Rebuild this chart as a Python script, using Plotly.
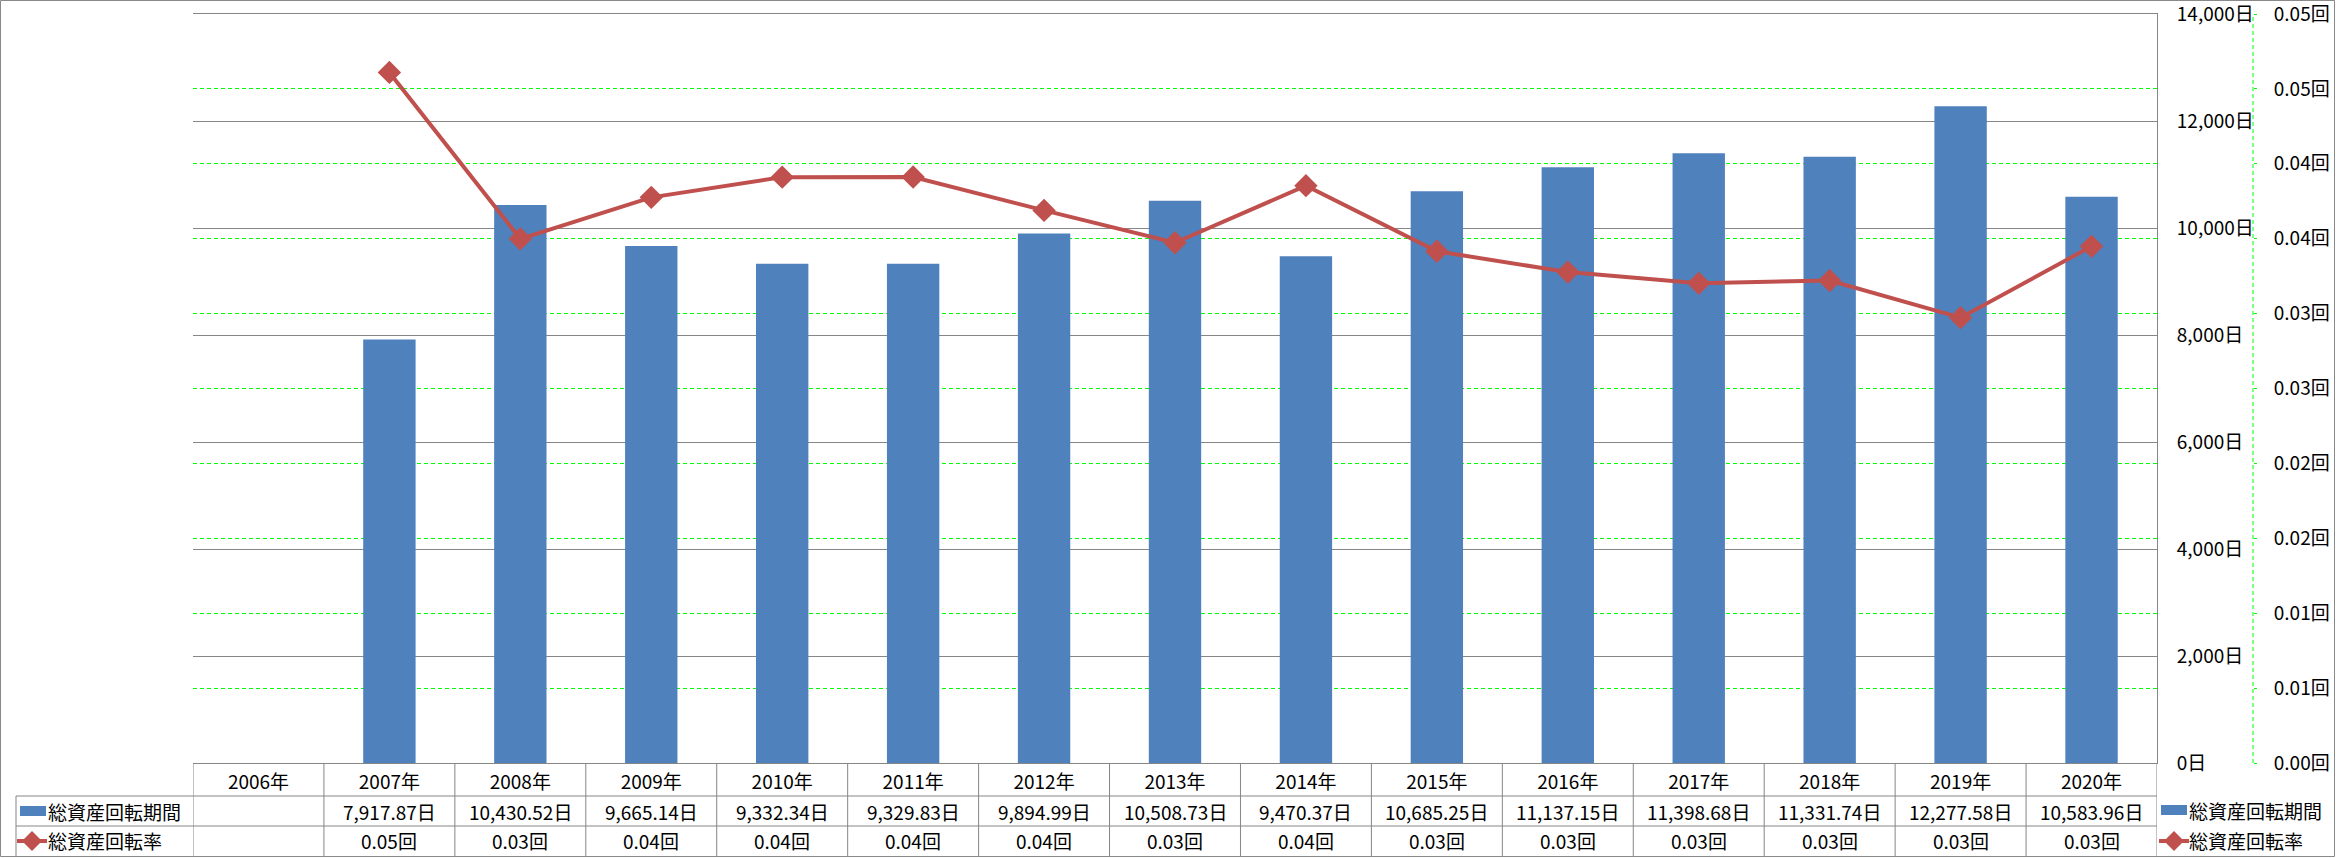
import plotly.graph_objects as go

# ---------------- data ----------------
years = ['2006年', '2007年', '2008年', '2009年', '2010年', '2011年', '2012年', '2013年',
         '2014年', '2015年', '2016年', '2017年', '2018年', '2019年', '2020年']
period_days = [None, 7917.87, 10430.52, 9665.14, 9332.34, 9329.83, 9894.99, 10508.73,
               9470.37, 10685.25, 11137.15, 11398.68, 11331.74, 12277.58, 10583.96]
turnover = [None, 0.04610, 0.03499, 0.03776, 0.03911, 0.03912, 0.03689, 0.03473,
            0.03854, 0.03416, 0.03277, 0.03202, 0.03221, 0.02973, 0.03449]
y1_tickvals = [0, 2000, 4000, 6000, 8000, 10000, 12000, 14000]
y1_ticktext = ['0日', '2,000日', '4,000日', '6,000日', '8,000日', '10,000日', '12,000日', '14,000日']
y2_tickvals = [0, 0.005, 0.01, 0.015, 0.02, 0.025, 0.03, 0.035, 0.04, 0.045, 0.05]
y2_ticktext = ['0.00回', '0.01回', '0.01回', '0.02回', '0.02回', '0.03回', '0.03回',
               '0.04回', '0.04回', '0.05回', '0.05回']
name_bar = '総資産回転期間'
name_line = '総資産回転率'

# ---------------- geometry / style ----------------
W, H = 2336, 858
M_T, M_B = 14, 95
PLOT_H = H - M_T - M_B
BAR_C = '#4F81BD'
LINE_C = '#C0504D'
GRID_C = '#868686'
GREEN = '#00FF00'
FONT = 'Noto Sans CJK JP'
FS = 19


def px(x):
    return x / W


def py(y):
    return (H - M_B - y) / PLOT_H


fig = go.Figure()
fig.add_trace(go.Bar(x=years, y=period_days, name=name_bar, marker_color=BAR_C,
                     marker_line_width=0, yaxis='y', showlegend=False))
fig.add_trace(go.Scatter(x=years, y=turnover, name=name_line, mode='lines+markers',
                         line=dict(color=LINE_C, width=4),
                         marker=dict(symbol='diamond', size=18, color=LINE_C),
                         yaxis='y2', showlegend=False))

shapes = []
annotations = []

# outer chart border
shapes.append(dict(type='rect', xref='paper', yref='paper', x0=px(0.5), x1=px(W - 1.5),
                   y0=py(856.5), y1=py(0.5), line=dict(color='#898989', width=1)))

# secondary axis dashed line
shapes.append(dict(type='line', xref='paper', yref='paper', x0=px(2253), x1=px(2253),
                   y0=0, y1=1, line=dict(color=GREEN, width=1, dash='4px,3px')))

# data table grid
for i in range(len(years) + 1):
    shapes.append(dict(type='line', xref='x', yref='paper', x0=i - 0.5, x1=i - 0.5,
                       y0=py(856), y1=0, line=dict(color=GRID_C, width=1)))
for yy in (796, 826):
    shapes.append(dict(type='line', xref='paper', yref='paper', x0=px(16), x1=px(2157),
                       y0=py(yy), y1=py(yy), line=dict(color=GRID_C, width=1)))
shapes.append(dict(type='line', xref='paper', yref='paper', x0=px(16), x1=px(16),
                   y0=py(856), y1=py(796), line=dict(color=GRID_C, width=1)))

# table values
for yr, v, r in zip(years, period_days, turnover):
    if v is not None:
        annotations.append(dict(xref='x', yref='paper', x=yr, y=py(811), text=f'{v:,.2f}日',
                                showarrow=False, font=dict(family=FONT, size=FS, color='#000'),
                                xanchor='center', yanchor='middle'))
    if r is not None:
        annotations.append(dict(xref='x', yref='paper', x=yr, y=py(841), text=f'{r:.2f}回',
                                showarrow=False, font=dict(family=FONT, size=FS, color='#000'),
                                xanchor='center', yanchor='middle'))


def legend_keys(x_rect0, x_line0, x_text, y_bar, y_line):
    # bar key
    shapes.append(dict(type='rect', xref='paper', yref='paper', x0=px(x_rect0), x1=px(x_rect0 + 26),
                       y0=py(y_bar + 5), y1=py(y_bar - 5), fillcolor=BAR_C, line=dict(width=0)))
    # line key
    shapes.append(dict(type='line', xref='paper', yref='paper', x0=px(x_line0), x1=px(x_line0 + 30),
                       y0=py(y_line), y1=py(y_line), line=dict(color=LINE_C, width=4)))
    cx = x_line0 + 15
    d = 10
    path = (f'M {px(cx)},{py(y_line - d)} L {px(cx + d)},{py(y_line)} '
            f'L {px(cx)},{py(y_line + d)} L {px(cx - d)},{py(y_line)} Z')
    shapes.append(dict(type='path', xref='paper', yref='paper', path=path,
                       fillcolor=LINE_C, line=dict(width=0)))
    annotations.append(dict(xref='paper', yref='paper', x=px(x_text), y=py(y_bar), text=name_bar,
                            showarrow=False, xanchor='left', yanchor='middle',
                            font=dict(family=FONT, size=FS, color='#000')))
    annotations.append(dict(xref='paper', yref='paper', x=px(x_text), y=py(y_line), text=name_line,
                            showarrow=False, xanchor='left', yanchor='middle',
                            font=dict(family=FONT, size=FS, color='#000')))


legend_keys(20, 17, 46, 811, 841)
legend_keys(2161, 2159, 2187, 810, 841)

fig.update_layout(
    width=W, height=H,
    margin=dict(l=0, r=0, t=M_T, b=M_B, pad=0),
    paper_bgcolor='white', plot_bgcolor='white',
    bargap=0.6,
    font=dict(family=FONT, size=FS, color='#000'),
    xaxis=dict(domain=[px(193), px(2157)], type='category', range=[-0.5, len(years) - 0.5],
               showgrid=False, showline=True, mirror=True, linecolor=GRID_C, linewidth=1,
               ticks='', tickfont=dict(family=FONT, size=FS, color='#000'),
               ticklabelstandoff=2, fixedrange=True),
    yaxis=dict(side='right', range=[0, 14000], tickmode='array', tickvals=y1_tickvals,
               ticktext=y1_ticktext, showgrid=True, gridcolor=GRID_C, gridwidth=1, zeroline=False,
               showline=True, linecolor=GRID_C, linewidth=1, ticks='',
               ticklabeloverflow='allow', ticklabelstandoff=15,
               tickfont=dict(family=FONT, size=FS, color='#000')),
    yaxis2=dict(overlaying='y', side='right', anchor='free', position=px(2253),
                range=[0, 0.05], tickmode='array', tickvals=y2_tickvals, ticktext=y2_ticktext,
                showgrid=True, gridcolor=GREEN, gridwidth=1, griddash='4px,3px',
                zeroline=False, showline=False, ticks='outside', ticklen=3,
                tickcolor=GREEN, ticklabeloverflow='allow', ticklabelstandoff=13,
                tickfont=dict(family=FONT, size=FS, color='#000')),
    shapes=shapes,
    annotations=annotations,
)

fig.write_html('out.html')
